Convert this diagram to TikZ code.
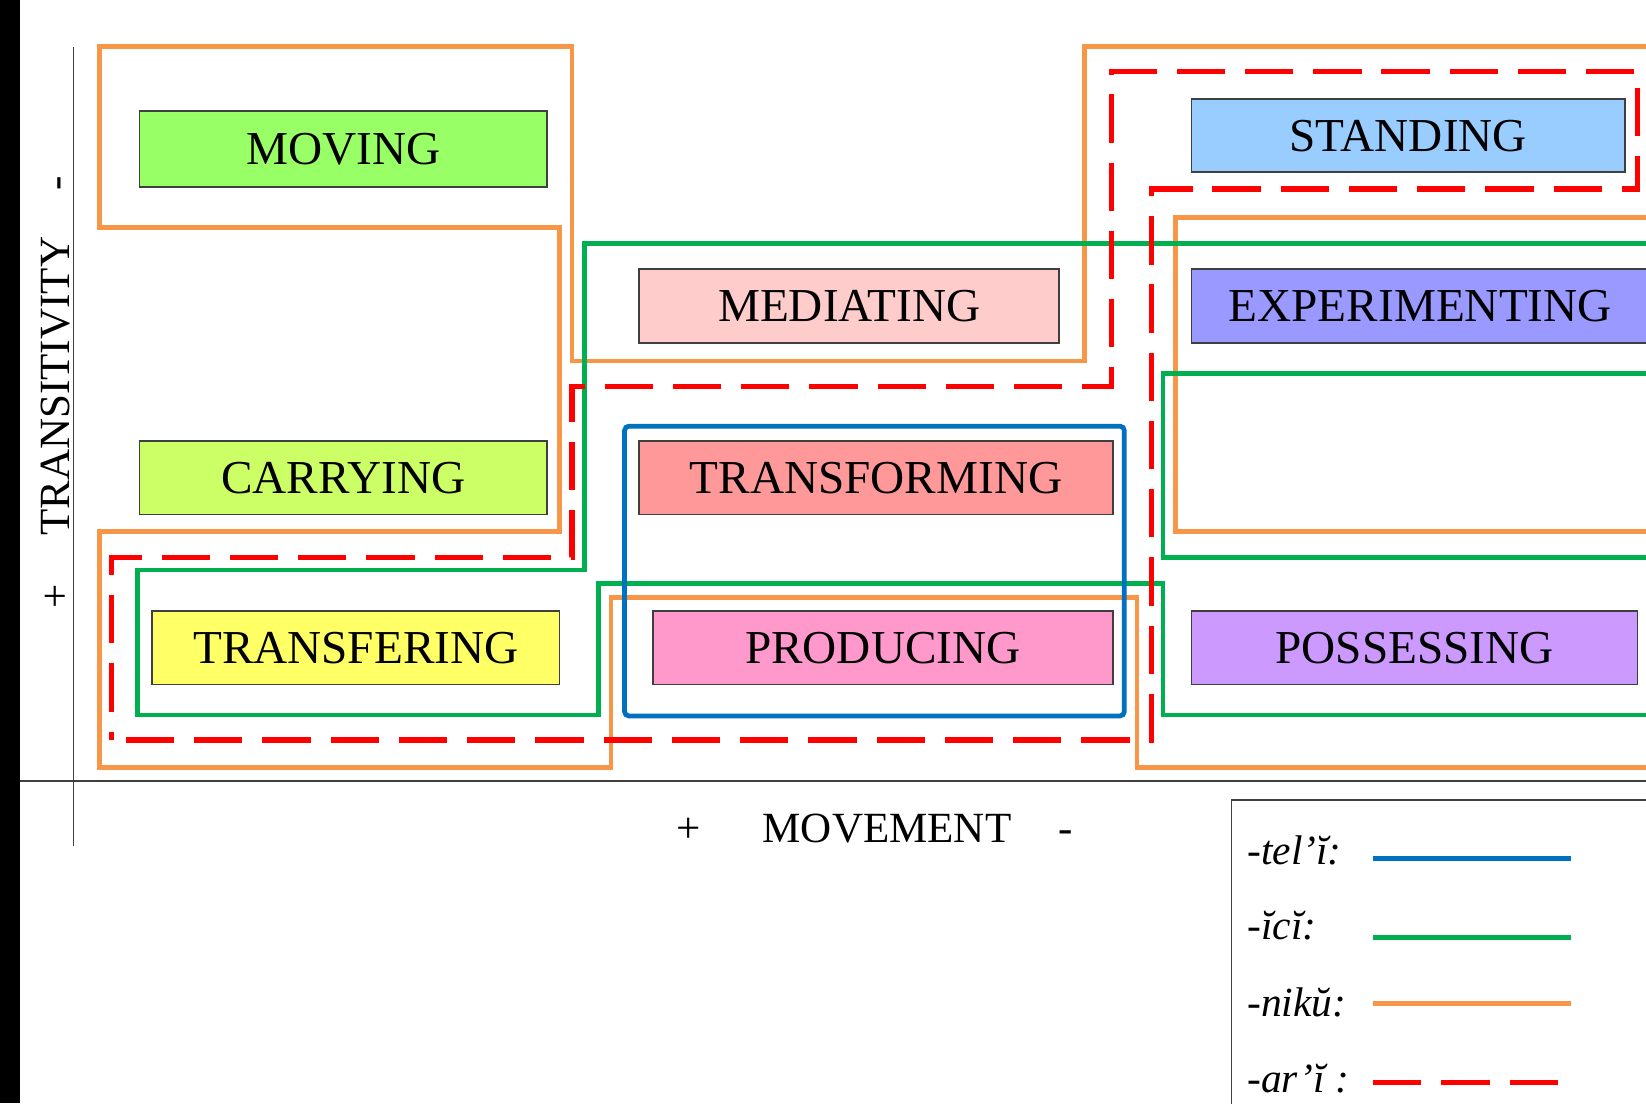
\documentclass[tikz,border=0pt]{standalone}
\usepackage{fontspec}
\setmainfont{Liberation Serif}
\definecolor{cOrange}{HTML}{F79646}
\definecolor{cGreen}{HTML}{00B050}
\definecolor{cBlue}{HTML}{0070C0}
\definecolor{cRed}{HTML}{FF0000}
\definecolor{boxline}{HTML}{3F3F3F}
\definecolor{axisgray}{HTML}{404040}
\definecolor{fMoving}{HTML}{99FF66}
\definecolor{fCarrying}{HTML}{CCFF66}
\definecolor{fTransfering}{HTML}{FFFF66}
\definecolor{fMediating}{HTML}{FFCCCC}
\definecolor{fTransforming}{HTML}{FF9999}
\definecolor{fProducing}{HTML}{FF99CC}
\definecolor{fStanding}{HTML}{99CCFF}
\definecolor{fExperimenting}{HTML}{9999FF}
\definecolor{fPossessing}{HTML}{CC99FF}
\begin{document}
\begin{tikzpicture}[x=1pt,y=-1pt,
  vbox/.style={draw=boxline, line width=1.6pt, inner sep=0pt,
    font=\fontsize{45}{45}\selectfont, text height=29.8pt, text depth=0pt},
  axl/.style={font=\fontsize{41}{41}\selectfont, inner sep=0pt, anchor=base},
  lgt/.style={font=\fontsize{39.5}{39.5}\selectfont\itshape, inner sep=0pt, anchor=base west},
  niku/.style={draw=cOrange, line width=4.5pt},
  ici/.style={draw=cGreen, line width=4.5pt},
  teli/.style={draw=cBlue, line width=4.5pt},
  ari/.style={draw=cRed, line width=5pt, dash pattern=on 46pt off 19pt},
  axisline/.style={draw=axisgray, line width=1.8pt}]

\useasboundingbox (0,0) rectangle (1568,1051);
\fill[white] (0,0) rectangle (1568,1051);
\begin{scope}
\clip (0,0) rectangle (1568,1051);
\fill[black] (0,0) rectangle (19,1051);

% axes
\coordinate (vtop) at (70,45);
\coordinate (vbot) at (70,806);
\coordinate (hleft) at (19,744);
\coordinate (hright) at (1600,744);
\draw[axisline] (vtop) -- (vbot);
\draw[axisline] (hleft) -- (hright);

% -niku (orange)
\draw[niku] (1600,44) -- (1033,44) -- (1033,344) -- (545,344) -- (545,44) -- (95,44)
  -- (95,217) -- (533,217) -- (533,506) -- (95,506) -- (95,731) -- (582,731)
  -- (582,569) -- (1083,569) -- (1083,731) -- (1600,731);
\draw[niku] (1600,207) -- (1120,207) -- (1120,506) -- (1600,506);

% -ici (green)
\draw[ici] (1600,232) -- (557,232) -- (557,543) -- (131,543) -- (131,681) -- (570,681)
  -- (570,556) -- (1108,556) -- (1108,681) -- (1600,681);
\draw[ici] (1600,356) -- (1108,356) -- (1108,531) -- (1600,531);

% -tel'i (blue)
\draw[teli, rounded corners=4pt] (595,406) rectangle (1071,682);

% -ar'i (red dashed)
\draw[ari, dash phase=51pt] (106,705) -- (1097,705) -- (1097,180) -- (1560,180)
  -- (1560,68) -- (1059,68) -- (1059,368) -- (545,368) -- (545,531) -- (106,531) -- cycle;

% boxes
\node[vbox, fill=fMoving, minimum width=388pt, minimum height=72pt] (moving) at (327,142) {MOVING};
\node[vbox, fill=fCarrying, minimum width=388pt, minimum height=70pt] (carrying) at (327,455) {CARRYING};
\node[vbox, fill=fTransfering, minimum width=388pt, minimum height=70pt] (transfering) at (339,617) {TRANSFERING};
\node[vbox, fill=fMediating, minimum width=400pt, minimum height=71pt] (mediating) at (809,291.5) {MEDIATING};
\node[vbox, fill=fTransforming, minimum width=451pt, minimum height=70pt] (transforming) at (834.5,455) {TRANSFORMING};
\node[vbox, fill=fProducing, minimum width=438pt, minimum height=70pt] (producing) at (841,617) {PRODUCING};
\node[vbox, fill=fStanding, minimum width=413pt, minimum height=70pt] (standing) at (1341.5,129) {STANDING};
\node[vbox, fill=fExperimenting, minimum width=436pt, minimum height=71pt] (experimenting) at (1353,291.5) {EXPERIMENTING};
\node[vbox, fill=fPossessing, minimum width=425pt, minimum height=70pt] (possessing) at (1347.5,617) {POSSESSING};

% axis labels
\node[axl, rotate=90] (trans) at (66.5,368) {TRANSITIVITY};
\node[axl, rotate=90] (tminus) at (66.5,175) {-};
\node[axl, rotate=90] (tplus) at (66.5,568) {+};
\node[axl] (mplus) at (656,803) {+};
\node[axl] (movement) at (845,803) {MOVEMENT};
\node[axl] (mminus) at (1015,803) {-};

% legend
\draw[draw=axisgray, line width=1.5pt] (1173,762) rectangle (1620,1120);
\node[lgt] (lteli) at (1188,824) {-tel’ĭ:};
\node[lgt] (lici) at (1188,895) {-ĭcĭ:};
\node[lgt] (lniku) at (1188,968) {-nikŭ:};
\node[lgt] (lari) at (1188,1041) {-ar’ĭ :};
\coordinate (b1) at (1308,818); \coordinate (b2) at (1497,818);
\coordinate (g1) at (1308,893); \coordinate (g2) at (1497,893);
\coordinate (o1) at (1308,956); \coordinate (o2) at (1497,956);
\coordinate (r1) at (1308,1031); \coordinate (r2) at (1489,1031);
\draw[teli] (b1) -- (b2);
\draw[ici] (g1) -- (g2);
\draw[niku] (o1) -- (o2);
\draw[ari] (r1) -- (r2);
\end{scope}
\end{tikzpicture}
\end{document}
